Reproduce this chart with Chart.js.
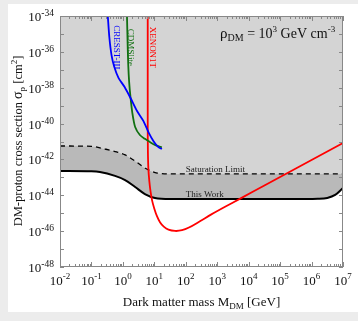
<!DOCTYPE html>
<html>
<head>
<meta charset="utf-8">
<script src="https://cdn.jsdelivr.net/npm/chart.js@4"></script>
<style>
  html, body { margin: 0; padding: 0; background: #ececec; }
  canvas { display: block; }
</style>
</head>
<body>
<canvas id="c" width="358" height="321"></canvas>
<script>
// values are log10 of mass [GeV] and log10 of cross section [cm^2]
const satLogM   = [-2, -1.0, -0.57, -0.2, 0.07, 0.39, 0.70, 1.09, 1.5, 2, 4, 7];
const satLogS   = [-41.25, -41.27, -41.42, -41.58, -41.75, -42.09, -42.48, -42.76, -42.81, -42.81, -42.81, -42.81];

const workLogM  = [-2, -1, -0.73, -0.25, 0.07, 0.39, 0.70, 1.02, 1.5, 2.5, 4, 5.8, 6.2, 6.5, 6.75, 7];
const workLogS  = [-42.64, -42.66, -42.70, -42.92, -43.15, -43.54, -43.93, -44.15, -44.21, -44.21, -44.21, -44.21, -44.2, -44.15, -43.98, -43.59];

const xenonLogM = [0.79, 0.79, 0.795, 0.81, 0.84, 0.88, 0.93, 1.0, 1.08, 1.18, 1.3, 1.45, 1.66, 1.88, 2.1, 2.45, 2.8, 3.25, 3.76, 4.5, 5.0, 6.0, 7];
const xenonLogS = [-33.5, -40, -41.5, -42.5, -43.2, -43.8, -44.3, -44.75, -45.15, -45.5, -45.75, -45.92, -45.99, -45.95, -45.8, -45.45, -45.08, -44.64, -44.16, -43.45, -42.98, -42.03, -41.08];

const cresstLogM = [-0.5, -0.48, -0.43, -0.36, -0.28, -0.14, 0.05, 0.25, 0.45, 0.65, 0.82, 0.98, 1.12, 1.24];
const cresstLogS = [-33.5, -34.0, -35.2, -36.2, -36.8, -37.45, -37.95, -38.6, -39.3, -39.85, -40.5, -41.0, -41.3, -41.42];

const cdmsLogM  = [0.12, 0.13, 0.15, 0.17, 0.2, 0.24, 0.3, 0.39, 0.54, 0.7, 0.86, 1.05, 1.24];
const cdmsLogS  = [-33.5, -34, -35.5, -36.7, -37.7, -38.5, -39.4, -40.19, -40.64, -40.85, -41.03, -41.22, -41.33];

const xTickExps = [-2, -1, 0, 1, 2, 3, 4, 5, 6, 7];
const yTickExps = [-48, -46, -44, -42, -40, -38, -36, -34];

const toPts = (lm, ls) => lm.map((m, i) => ({ x: Math.pow(10, m), y: Math.pow(10, ls[i]) }));

const SERIF = '"Liberation Serif", "DejaVu Serif", serif';

// draw a run of text pieces (for sub/superscripts)
function richText(ctx, segs, x, y, align) {
  let w = 0;
  segs.forEach(s => { ctx.font = s.size + 'px ' + SERIF; s.w = ctx.measureText(s.t).width; w += s.w; });
  let cx = align === 'center' ? x - w / 2 : align === 'right' ? x - w : x;
  ctx.textAlign = 'left';
  ctx.textBaseline = 'alphabetic';
  segs.forEach(s => {
    ctx.font = s.size + 'px ' + SERIF;
    ctx.fillText(s.t, cx, y + (s.dy || 0));
    cx += s.w;
  });
}

const decor = {
  id: 'decor',
  beforeDraw(chart) {
    const ctx = chart.ctx;
    ctx.save();
    ctx.fillStyle = '#ececec';
    ctx.fillRect(0, 0, chart.width, chart.height);
    ctx.fillStyle = '#ffffff';
    ctx.fillRect(8, 4, chart.width - 8, 308);
    ctx.restore();
  },
  afterDatasetsDraw(chart) {
    const ctx = chart.ctx;
    const a = chart.chartArea;
    const xs = chart.scales.x, ys = chart.scales.y;
    ctx.save();
    // frame
    ctx.strokeStyle = '#888';
    ctx.lineWidth = 1;
    ctx.strokeRect(a.left + 0.5, a.top + 0.5, a.right - a.left - 1, a.bottom - a.top - 1);
    // x ticks
    ctx.beginPath();
    for (let e = -2; e <= 7; e++) {
      for (let k = 1; k <= 9; k++) {
        if (e === 7 && k > 1) break;
        const px = Math.round(xs.getPixelForValue(k * Math.pow(10, e))) + 0.5;
        const len = k === 1 ? 5 : 3;
        ctx.moveTo(px, a.bottom); ctx.lineTo(px, a.bottom - len);
        ctx.moveTo(px, a.top); ctx.lineTo(px, a.top + len);
      }
    }
    // y ticks, every decade
    for (let e = -48; e <= -34; e++) {
      const py = Math.round(ys.getPixelForValue(Math.pow(10, e))) + 0.5;
      ctx.moveTo(a.left, py); ctx.lineTo(a.left + 4, py);
      ctx.moveTo(a.right, py); ctx.lineTo(a.right - 4, py);
    }
    ctx.stroke();

    ctx.fillStyle = '#111';
    // x tick labels
    xTickExps.forEach(e => {
      const px = xs.getPixelForValue(Math.pow(10, e));
      richText(ctx, [{ t: '10', size: 13 }, { t: String(e), size: 9, dy: -6 }], px, 285, 'center');
    });
    // y tick labels
    yTickExps.forEach(e => {
      const py = ys.getPixelForValue(Math.pow(10, e));
      richText(ctx, [{ t: '10', size: 13 }, { t: String(e), size: 9.5, dy: -5 }], 54, py + 5, 'right');
    });
    // axis titles
    richText(ctx, [{ t: 'Dark matter mass M', size: 13 }, { t: 'DM', size: 9, dy: 3 }, { t: ' [GeV]', size: 13 }],
      (a.left + a.right) / 2, 306, 'center');
    ctx.save();
    ctx.translate(22, 141);
    ctx.rotate(-Math.PI / 2);
    richText(ctx, [{ t: 'DM-proton cross section ', size: 12.5 }, { t: 'σ', size: 14 }, { t: 'p', size: 9, dy: 3 },
      { t: ' [cm', size: 12.5 }, { t: '2', size: 9, dy: -5 }, { t: ']', size: 12.5 }], 0, 0, 'center');
    ctx.restore();

    // density note
    richText(ctx, [{ t: 'ρ', size: 15 }, { t: 'DM', size: 10, dy: 3 }, { t: ' = 10', size: 14 }, { t: '3', size: 9, dy: -6 },
      { t: ' GeV cm', size: 14 }, { t: '-3', size: 9, dy: -6 }], xs.getPixelForValue(Math.pow(10, 6.75)), 38, 'right');

    // curve labels
    ctx.fillStyle = '#222';
    richText(ctx, [{ t: 'Saturation Limit', size: 9 }], xs.getPixelForValue(100), ys.getPixelForValue(Math.pow(10, -42.53)) + 3, 'left');
    richText(ctx, [{ t: 'This Work', size: 9 }], xs.getPixelForValue(100), ys.getPixelForValue(Math.pow(10, -43.93)) + 3, 'left');

    const vlab = (txt, color, lm) => {
      ctx.save();
      ctx.fillStyle = color;
      ctx.translate(xs.getPixelForValue(Math.pow(10, lm)) - 3, ys.getPixelForValue(Math.pow(10, -35.75)));
      ctx.rotate(Math.PI / 2);
      richText(ctx, [{ t: txt, size: 9 }], 0, 0, 'center');
      ctx.restore();
    };
    vlab('CRESST-III', '#0000ff', -0.2);
    vlab('CDMSlite', '#117011', 0.26);
    vlab('XENON1T', '#ff0000', 0.95);
    ctx.restore();
  }
};

new Chart(document.getElementById('c'), {
  type: 'scatter',
  data: {
    datasets: [
      { label: 'Saturation Limit', data: toPts(satLogM, satLogS), showLine: true, pointRadius: 0,
        borderColor: '#000', borderWidth: 1.3, borderDash: [5, 4], cubicInterpolationMode: 'monotone',
        fill: 'end', backgroundColor: '#d4d4d4', order: 10 },
      { label: 'This Work', data: toPts(workLogM, workLogS), showLine: true, pointRadius: 0,
        borderColor: '#000', borderWidth: 2, cubicInterpolationMode: 'monotone',
        fill: '-1', backgroundColor: '#b9b9b9', order: 9 },
      { label: 'XENON1T', data: toPts(xenonLogM, xenonLogS), showLine: true, pointRadius: 0,
        borderColor: '#ff0000', borderWidth: 1.8, tension: 0.35, fill: false, order: 3 },
      { label: 'CDMSlite', data: toPts(cdmsLogM, cdmsLogS), showLine: true, pointRadius: 0,
        borderColor: '#117011', borderWidth: 1.8, tension: 0.25, fill: false, order: 2 },
      { label: 'CRESST-III', data: toPts(cresstLogM, cresstLogS), showLine: true, pointRadius: 0,
        borderColor: '#0000ff', borderWidth: 1.8, tension: 0.25, fill: false, order: 1 }
    ]
  },
  options: {
    responsive: false,
    animation: false,
    devicePixelRatio: 1,
    layout: { padding: { left: 60, top: 16, right: 15, bottom: 54 } },
    scales: {
      x: { type: 'logarithmic', min: 1e-2, max: 1e7, display: false },
      y: { type: 'logarithmic', min: 1e-48, max: 1e-34, display: false }
    },
    plugins: {
      legend: { display: false },
      tooltip: { enabled: false },
      filler: { drawTime: 'beforeDatasetsDraw' }
    }
  },
  plugins: [decor]
});
</script>
</body>
</html>
